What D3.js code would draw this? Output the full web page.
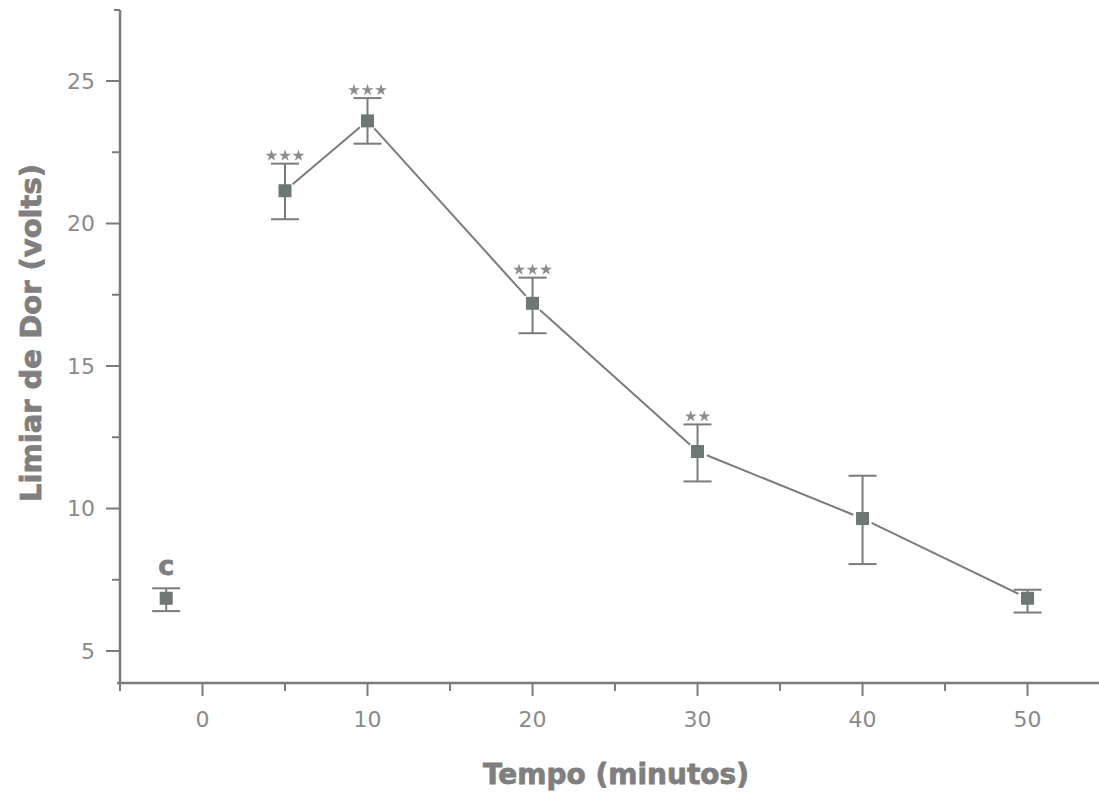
<!DOCTYPE html>
<html>
<head>
<meta charset="utf-8">
<script src="https://cdn.jsdelivr.net/npm/d3@7"></script>
<style>
  body { margin: 0; background: #fff; }
  svg { display: block; }
  text { font-family: "DejaVu Sans", Arial, sans-serif; }
</style>
</head>
<body>
<div id="chart"></div>
<script>
var svgWidth = 1099;
var svgHeight = 793;

// data
var times = [5, 10, 20, 30, 40, 50];
var means = [21.15, 23.6, 17.2, 12.0, 9.65, 6.85];
var errUp = [22.1, 24.4, 18.1, 12.95, 11.15, 7.15];
var errDown = [20.15, 22.8, 16.15, 10.95, 8.05, 6.35];
var starCount = [3, 3, 3, 2, 0, 0];
// control point "c"
var controlX = -2.2;
var controlMean = 6.85;
var controlUp = 7.2;
var controlDown = 6.4;
var xTicks = [0, 10, 20, 30, 40, 50];
var yTicks = [5, 10, 15, 20, 25];

var axisColor = "#7b7b7b";
var textColor = "#8a8a8a";
var markColor = "#6e7873";

var svg = d3.select("#chart")
    .append("svg")
    .attr("width", svgWidth)
    .attr("height", svgHeight);

var x = d3.scaleLinear().domain([-5, 54.33]).range([120, 1099]);
var y = d3.scaleLinear().domain([5, 25]).range([651, 81]);
var y0 = 683;

// x axis
var xAxis = svg.append("g").attr("transform", "translate(0," + y0 + ")");
xAxis.append("line").attr("x1", 117).attr("x2", svgWidth)
    .attr("stroke", axisColor).attr("stroke-width", 2.5);
xAxis.selectAll(".maj").data(xTicks).enter().append("line")
    .attr("x1", d => x(d)).attr("x2", d => x(d)).attr("y1", 0).attr("y2", 13)
    .attr("stroke", axisColor).attr("stroke-width", 2);
xAxis.selectAll(".min").data(d3.range(-5, 55, 10)).enter().append("line")
    .attr("x1", d => x(d)).attr("x2", d => x(d)).attr("y1", 0).attr("y2", 8)
    .attr("stroke", axisColor).attr("stroke-width", 2);
xAxis.selectAll(".lab").data(xTicks).enter().append("text")
    .attr("x", d => x(d)).attr("y", 44)
    .attr("text-anchor", "middle").attr("fill", textColor)
    .attr("font-size", 22).text(d => d);

// y axis
var yAxis = svg.append("g").attr("transform", "translate(120,0)");
yAxis.append("line").attr("y1", 10).attr("y2", y0 + 1)
    .attr("stroke", axisColor).attr("stroke-width", 2.5);
yAxis.append("line").attr("x1", -6).attr("x2", 0).attr("y1", 10).attr("y2", 10)
    .attr("stroke", axisColor).attr("stroke-width", 2);
yAxis.selectAll(".maj").data(yTicks).enter().append("line")
    .attr("x1", -14).attr("x2", 0).attr("y1", d => y(d)).attr("y2", d => y(d))
    .attr("stroke", axisColor).attr("stroke-width", 2);
yAxis.selectAll(".min").data(d3.range(7.5, 27.5, 5)).enter().append("line")
    .attr("x1", -8).attr("x2", 0).attr("y1", d => y(d)).attr("y2", d => y(d))
    .attr("stroke", axisColor).attr("stroke-width", 2);
yAxis.selectAll(".lab").data(yTicks).enter().append("text")
    .attr("x", -25).attr("y", d => y(d)).attr("dy", "0.36em")
    .attr("text-anchor", "end").attr("fill", textColor)
    .attr("font-size", 22).text(d => d);

// axis titles
svg.append("text")
    .attr("transform", "translate(616,784)")
    .attr("text-anchor", "middle").attr("fill", "#7f7f7f")
    .attr("font-size", 28).attr("font-weight", "bold")
    .attr("stroke", "#7f7f7f").attr("stroke-width", 0.8)
    .text("Tempo (minutos)");
svg.append("text")
    .attr("transform", "translate(41,333) rotate(-90)")
    .attr("text-anchor", "middle").attr("fill", "#7f7f7f")
    .attr("font-size", 29).attr("font-weight", "bold")
    .attr("stroke", "#7f7f7f").attr("stroke-width", 0.8)
    .text("Limiar de Dor (volts)");

var data = times.map((t, i) => ({ t: t, m: means[i], hi: errUp[i], lo: errDown[i], n: starCount[i] }));

// connecting line, segments stop short of the markers
var gap = 10;
var segs = svg.append("g");
for (var i = 0; i < data.length - 1; i++) {
    var x1 = x(data[i].t), y1 = y(data[i].m), x2 = x(data[i + 1].t), y2 = y(data[i + 1].m);
    var len = Math.hypot(x2 - x1, y2 - y1);
    var ux = (x2 - x1) / len, uy = (y2 - y1) / len;
    segs.append("line")
        .attr("x1", x1 + ux * gap).attr("y1", y1 + uy * gap)
        .attr("x2", x2 - ux * gap).attr("y2", y2 - uy * gap)
        .attr("stroke", axisColor).attr("stroke-width", 2);
}

var all = data.concat([{ t: controlX, m: controlMean, hi: controlUp, lo: controlDown, n: 0 }]);

var bars = svg.append("g").selectAll("g").data(all).enter().append("g");
bars.append("line")
    .attr("x1", d => x(d.t)).attr("x2", d => x(d.t))
    .attr("y1", d => y(d.hi)).attr("y2", d => y(d.lo))
    .attr("stroke", axisColor).attr("stroke-width", 2);
bars.append("line")
    .attr("x1", d => x(d.t) - 14).attr("x2", d => x(d.t) + 14)
    .attr("y1", d => y(d.hi)).attr("y2", d => y(d.hi))
    .attr("stroke", axisColor).attr("stroke-width", 2);
bars.append("line")
    .attr("x1", d => x(d.t) - 14).attr("x2", d => x(d.t) + 14)
    .attr("y1", d => y(d.lo)).attr("y2", d => y(d.lo))
    .attr("stroke", axisColor).attr("stroke-width", 2);
bars.append("rect")
    .attr("x", d => x(d.t) - 6.5).attr("y", d => y(d.m) - 6.5)
    .attr("width", 13).attr("height", 13)
    .attr("fill", markColor);

// significance stars above the caps
var star = d3.symbol().type(d3.symbolStar).size(44);
bars.each(function(d) {
    var g = d3.select(this);
    for (var k = 0; k < d.n; k++) {
        var sx = x(d.t) + (k - (d.n - 1) / 2) * 13.5;
        g.append("path").attr("d", star)
            .attr("transform", "translate(" + sx + "," + (y(d.hi) - 8) + ")")
            .attr("fill", "#8c8c8c");
    }
});

// "c" label for control
svg.append("text")
    .attr("x", x(controlX)).attr("y", y(controlUp) - 13)
    .attr("text-anchor", "middle").attr("fill", "#7f7f7f")
    .attr("font-size", 27).attr("font-weight", "bold")
    .attr("stroke", "#7f7f7f").attr("stroke-width", 0.8)
    .text("c");
</script>
</body>
</html>
